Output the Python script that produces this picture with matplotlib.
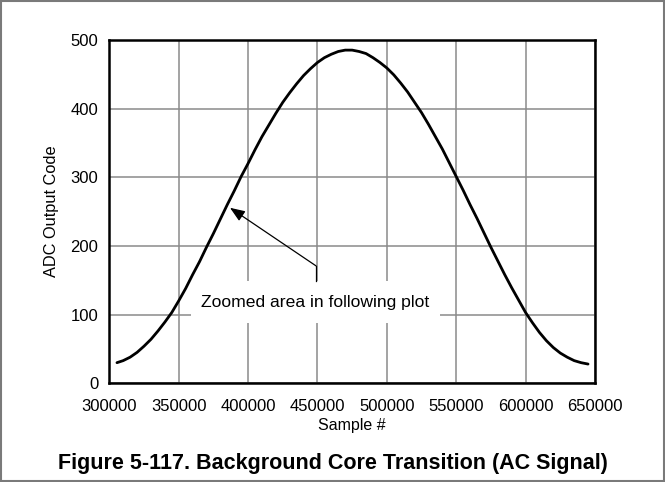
import matplotlib
matplotlib.use("Agg")
import matplotlib.pyplot as plt
from matplotlib.patches import Rectangle

plt.rcParams['font.family'] = ['Liberation Sans', 'DejaVu Sans']

# ADC output code versus sample number during the background core transition
sample_num = [305500, 310000, 315000, 320000, 325000, 330000, 335000, 340000,
              345000, 350000, 355000, 360000, 365000, 370000, 375000, 380000,
              385000, 390000, 395000, 400000, 405000, 410000, 415000, 420000,
              425000, 430000, 435000, 440000, 445000, 450000, 455000, 460000,
              465000, 470000, 475000, 480000, 485000, 490000, 495000, 500000,
              505000, 510000, 515000, 520000, 525000, 530000, 535000, 540000,
              545000, 550000, 555000, 560000, 565000, 570000, 575000, 580000,
              585000, 590000, 595000, 600000, 605000, 610000, 615000, 620000,
              625000, 630000, 635000, 640000, 645000]
adc_code = [30, 33, 38, 45, 54, 64, 76, 89,
            103, 120, 138, 158, 177, 198, 218, 239,
            260, 280, 301, 320, 340, 359, 376, 393,
            409, 423, 436, 448, 458, 467, 474, 479,
            483, 485, 485, 483, 480, 474, 467, 459,
            449, 437, 424, 409, 394, 377, 359, 341,
            321, 301, 281, 260, 240, 219, 198, 178,
            158, 139, 121, 103, 88, 74, 62, 52,
            44, 38, 33, 30, 28]

x_ticks = [300000, 350000, 400000, 450000, 500000, 550000, 600000, 650000]
y_ticks = [0, 100, 200, 300, 400, 500]

title = "Figure 5-117. Background Core Transition (AC Signal)"
note = "Zoomed area in following plot"

fig = plt.figure(figsize=(6.65, 4.82), dpi=100)
ax = fig.add_axes([0.1644, 0.2048, 0.7303, 0.7126])

ax.plot(sample_num, adc_code, color='black', lw=2.0, zorder=4,
        solid_capstyle='round', solid_joinstyle='round')

ax.set_xlim(300000, 650000)
ax.set_ylim(0, 500)
ax.set_xticks(x_ticks)
ax.set_xticklabels([str(v) for v in x_ticks])
ax.set_yticks(y_ticks)
ax.set_yticklabels([str(v) for v in y_ticks])
ax.tick_params(axis='both', length=0, labelsize=12, colors='black')
ax.tick_params(axis='x', pad=11)
ax.tick_params(axis='y', pad=8)
ax.grid(True, color='#8a8a8a', lw=1.1, zorder=1)
ax.set_axisbelow(True)
for sp in ax.spines.values():
    sp.set_linewidth(1.8)
    sp.set_color('black')
    sp.set_zorder(6)

ax.set_xlabel("Sample #", fontsize=11.5, labelpad=3)
ax.set_ylabel("ADC Output Code", fontsize=11.8, labelpad=8)

# white label panel masking the grid behind the note
ax.add_patch(Rectangle((358650, 87.8), 179600, 61.1, facecolor='white',
                       edgecolor='none', zorder=2))
ax.text(448400, 118, note, ha='center', va='center', fontsize=12.6, zorder=5)

# leader: short vertical stub from the panel, then an arrow to the curve
ax.plot([448900, 448900], [148.9, 171], color='black', lw=0.9, zorder=5)
ax.annotate("", xy=(386960, 255.5), xytext=(448900, 171),
            arrowprops=dict(arrowstyle='-|>,head_length=0.9,head_width=0.35',
                            color='black', lw=0.9, shrinkA=0, shrinkB=0),
            zorder=5)

fig.text(0.5, 0.039, title, ha='center', va='center', fontsize=15.5,
         fontweight='bold')

# thin frame around the whole figure
fig.add_artist(Rectangle((0.0015, 0.002), 0.997, 0.996, transform=fig.transFigure,
                         facecolor='none', edgecolor='#7a7a7a', lw=1.5))

fig.savefig("out.png", dpi=100)
